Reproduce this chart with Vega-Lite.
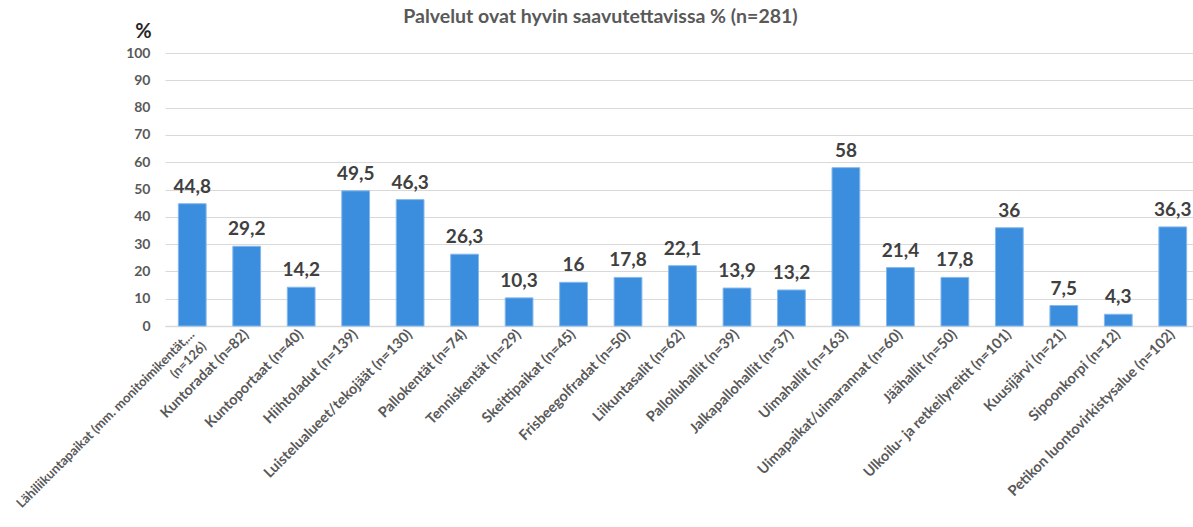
{
  "$schema": "https://vega.github.io/schema/vega-lite/v6.json",
  "autosize": {"type": "none"},
  "width": 1035,
  "height": 273,
  "padding": {"left": 165, "top": 53, "right": 0, "bottom": 201},
  "background": "white",
  "config": {
    "view": {"stroke": null},
    "font": "Lato",
    "locale": {"number": {"decimal": ",", "thousands": " ", "grouping": [3], "currency": ["", " €"]}}
  },
  "title": {
    "text": "Palvelut ovat hyvin saavutettavissa % (n=281)",
    "anchor": "middle",
    "dx": -82,
    "offset": -6,
    "fontSize": 19.5,
    "fontWeight": "bold",
    "color": "#595959",
    "font": "Lato"
  },
  "data": {
    "values": [
      {"kohde": "Lähiliikuntapaikat (mm. monitoimikentät,...|(n=126)", "arvo": 44.8},
      {"kohde": "Kuntoradat (n=82)", "arvo": 29.2},
      {"kohde": "Kuntoportaat (n=40)", "arvo": 14.2},
      {"kohde": "Hiihtoladut (n=139)", "arvo": 49.5},
      {"kohde": "Luistelualueet/tekojäät (n=130)", "arvo": 46.3},
      {"kohde": "Pallokentät (n=74)", "arvo": 26.3},
      {"kohde": "Tenniskentät (n=29)", "arvo": 10.3},
      {"kohde": "Skeittipaikat (n=45)", "arvo": 16},
      {"kohde": "Frisbeegolfradat (n=50)", "arvo": 17.8},
      {"kohde": "Liikuntasalit (n=62)", "arvo": 22.1},
      {"kohde": "Palloiluhallit (n=39)", "arvo": 13.9},
      {"kohde": "Jalkapallohallit (n=37)", "arvo": 13.2},
      {"kohde": "Uimahallit (n=163)", "arvo": 58},
      {"kohde": "Uimapaikat/uimarannat (n=60)", "arvo": 21.4},
      {"kohde": "Jäähallit (n=50)", "arvo": 17.8},
      {"kohde": "Ulkoilu- ja retkeilyreitit (n=101)", "arvo": 36},
      {"kohde": "Kuusijärvi (n=21)", "arvo": 7.5},
      {"kohde": "Sipoonkorpi (n=12)", "arvo": 4.3},
      {"kohde": "Petikon luontovirkistysalue (n=102)", "arvo": 36.3}
    ]
  },
  "encoding": {
    "x": {
      "field": "kohde",
      "type": "nominal",
      "sort": null,
      "scale": {"paddingInner": 0.49, "paddingOuter": 0.245},
      "axis": {
        "title": null,
        "labelAngle": -45,
        "labelAlign": "right",
        "labelBaseline": "middle",
        "labelFontSize": {"condition": {"test": "indexof(datum.value, '|') >= 0", "value": 13}, "value": 14.5},
        "labelFontWeight": "bold",
        "labelColor": "#595959",
        "labelFont": "Lato",
        "labelLimit": 0,
        "labelPadding": 6,
        "labelExpr": "split(datum.label, '|')",
        "labelLineHeight": 17,
        "ticks": false,
        "domain": true,
        "domainColor": "#d9d9d9",
        "domainWidth": 1.5,
        "grid": false
      }
    },
    "y": {
      "field": "arvo",
      "type": "quantitative",
      "scale": {"domain": [0, 100], "nice": false},
      "axis": {
        "values": [0, 10, 20, 30, 40, 50, 60, 70, 80, 90, 100],
        "title": "%",
        "titleAngle": 0,
        "titleX": -22,
        "titleY": -22,
        "titleAlign": "center",
        "titleBaseline": "middle",
        "titleFontSize": 20,
        "titleFontWeight": "bold",
        "titleColor": "#262626",
        "titleFont": "Lato",
        "labelFontSize": 14,
        "labelFontWeight": "bold",
        "labelColor": "#595959",
        "labelFont": "Lato",
        "labelPadding": 15,
        "ticks": false,
        "domain": false,
        "grid": true,
        "gridColor": "#d9d9d9",
        "gridWidth": 1.2
      }
    }
  },
  "layer": [
    {
      "mark": {"type": "bar", "color": "#3b8dde", "stroke": "#86b9ec", "strokeWidth": 1}
    },
    {
      "mark": {"type": "text", "baseline": "bottom", "dy": -7, "fontSize": 19, "fontWeight": "bold", "color": "#404040", "font": "Lato"},
      "encoding": {
        "text": {"field": "arvo", "type": "quantitative", "format": ".3~r"}
      }
    }
  ]
}
